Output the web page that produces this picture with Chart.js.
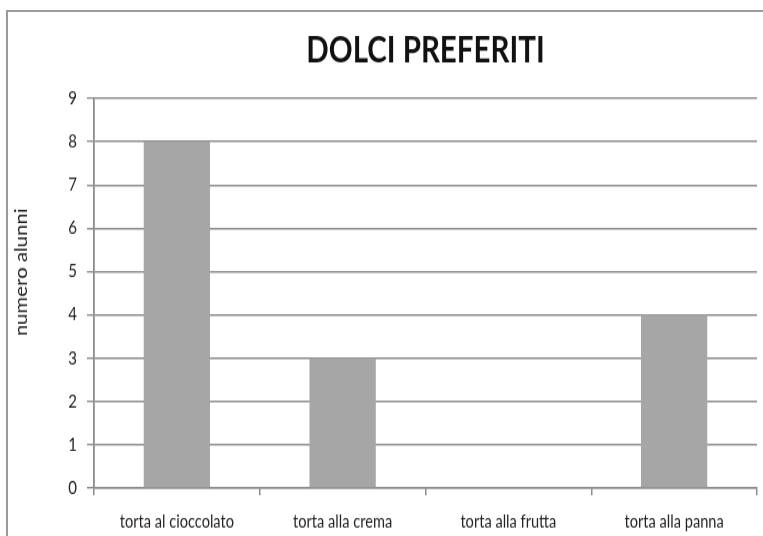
<!DOCTYPE html>
<html>
<head>
<meta charset="utf-8">
<script src="https://cdn.jsdelivr.net/npm/chart.js@4/dist/chart.umd.min.js"></script>
<style>
  html, body { margin: 0; padding: 0; background: #fff; overflow: hidden; }
  #wrap { position: relative; width: 763px; height: 536px; }
  #frame { position: absolute; left: 6px; top: 10px; width: 800px; height: 600px;
           border: 2px solid #9a9a9a; box-sizing: border-box; }
  /* drawing surface is 447 px tall, shown 536 px tall (text looks slightly tall and narrow) */
  #c { position: absolute; left: 0; top: 0; width: 763px !important; height: 536px !important; }
</style>
</head>
<body>
<div id="wrap">
  <div id="frame"></div>
  <canvas id="c" width="763" height="447"></canvas>
</div>
<script>
const categories = ['torta al cioccolato', 'torta alla crema', 'torta alla frutta', 'torta alla panna'];
const alunni = [8, 3, 0, 4];
const yTicks = [0, 1, 2, 3, 4, 5, 6, 7, 8, 9];
const chartTitle = 'DOLCI PREFERITI';
const yTitle = 'numero alunni';

const FONT = 'Lato, "Open Sans", sans-serif';
const GRID = '#8c8c8c';

// Chart title centred over the plot area, and the vertical axis title
const headings = {
  id: 'headings',
  afterDraw(chart) {
    const { ctx, chartArea } = chart;
    ctx.save();
    ctx.fillStyle = '#111';
    ctx.textAlign = 'center';
    ctx.textBaseline = 'middle';
    ctx.font = 'bold 29.5px ' + FONT;
    ctx.fillText(chartTitle, (chartArea.left + chartArea.right) / 2, 42);

    ctx.fillStyle = '#222';
    ctx.font = '17px ' + FONT;
    ctx.translate(22, 227);
    ctx.rotate(-Math.PI / 2);
    ctx.fillText(yTitle, 0, 0);
    ctx.restore();
  }
};

new Chart(document.getElementById('c'), {
  type: 'bar',
  data: {
    labels: categories,
    datasets: [{
      data: alunni,
      backgroundColor: '#a6a6a6',
      borderWidth: 0,
      categoryPercentage: 0.4,
      barPercentage: 1
    }]
  },
  options: {
    responsive: false,
    maintainAspectRatio: false,
    animation: false,
    devicePixelRatio: 1,
    layout: { padding: { left: 0, right: 6, top: 82, bottom: 0 } },
    plugins: {
      legend: { display: false },
      tooltip: { enabled: false },
      title: { display: false }
    },
    scales: {
      x: {
        offset: true,
        grid: { display: true, offset: true, drawOnChartArea: false, color: GRID, tickLength: 6, lineWidth: 1.5 },
        border: { color: GRID, width: 1.5 },
        ticks: { color: '#222', font: { family: FONT, size: 14.6 }, padding: 14, maxRotation: 0 },
        afterFit: s => { s.height = 40; }
      },
      y: {
        min: 0, max: 9,
        afterBuildTicks: s => { s.ticks = yTicks.map(v => ({ value: v })); },
        grid: { color: GRID, lineWidth: 1.4, tickLength: 7 },
        border: { color: GRID, width: 1.8 },
        ticks: { color: '#222', font: { family: FONT, size: 15 }, padding: 10 },
        afterFit: s => { s.width = 94; }
      }
    }
  },
  plugins: [headings]
});
</script>
</body>
</html>
